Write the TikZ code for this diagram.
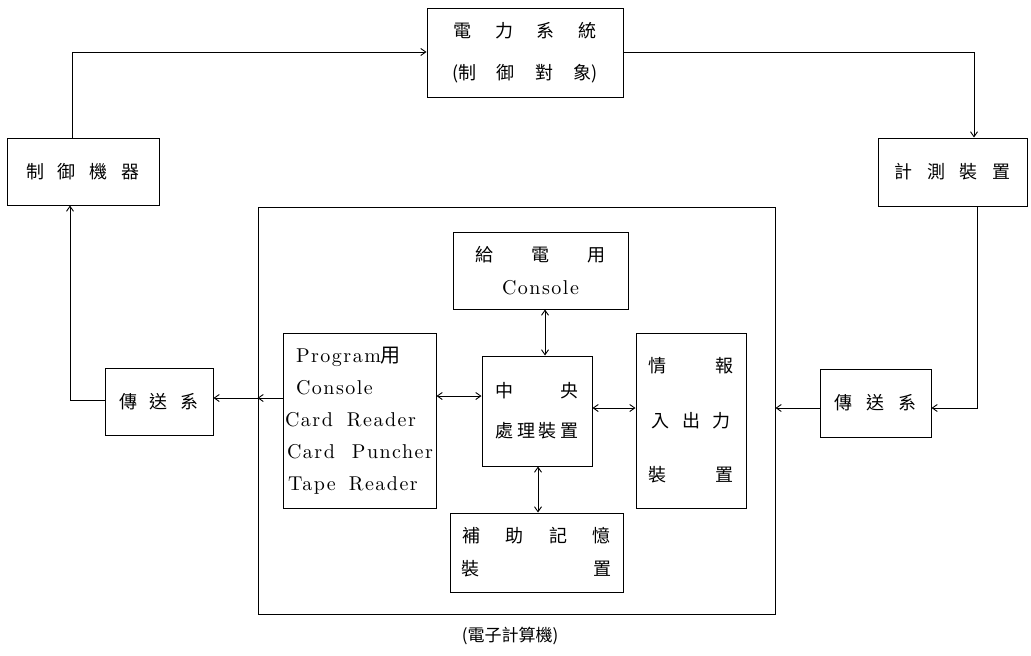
\documentclass[tikz,border=0pt]{standalone}
\usepackage{fontspec}
\newfontfamily\cjk{Noto Sans CJK TC}
\newfontfamily\lmsp{lmroman10-regular}[Extension=.otf, LetterSpace=7.5]
\usetikzlibrary{arrows.meta}
\newcommand{\jrow}[2]{\makebox[#1][s]{#2}}
\newcommand{\lat}{\lmsp}
\newcommand{\hf}{\hfill}
\begin{document}
\begin{tikzpicture}[x=1pt,y=-1pt,
  box/.style={draw, line width=1pt, inner sep=0pt, align=center},
  arr/.style={line width=0.9pt, -{Straight Barb[length=5pt,width=7pt]}},
  darr/.style={line width=0.9pt, {Straight Barb[length=5pt,width=7pt]}-{Straight Barb[length=5pt,width=7pt]}}]
\useasboundingbox (0,0) rectangle (1031,656);
\fill[white] (0,0) rectangle (1031,656);

% boxes
\node[box, minimum width=196pt, minimum height=89pt, font=\cjk\fontsize{18}{42}\selectfont] (power) at (525,52.5)
  {\jrow{143pt}{電\hf{}力\hf{}系\hf{}統}\\\jrow{145pt}{(制\hf{}御\hf{}對\hf{}象)}};
\node[box, minimum width=152pt, minimum height=67pt, font=\cjk\fontsize{18}{20}\selectfont] (ctrl) at (83,171.5)
  {\jrow{114pt}{制\hf{}御\hf{}機\hf{}器}};
\node[box, minimum width=149pt, minimum height=68pt, font=\cjk\fontsize{18}{20}\selectfont] (meas) at (952.5,172)
  {\jrow{116pt}{計\hf{}測\hf{}裝\hf{}置}};
\node[box, minimum width=108pt, minimum height=67pt, font=\cjk\fontsize{18}{20}\selectfont] (tr1) at (159,401.5)
  {\jrow{79pt}{傳\hf{}送\hf{}系}};
\node[box, minimum width=111pt, minimum height=68pt, font=\cjk\fontsize{18}{20}\selectfont] (tr2) at (875.5,403)
  {\jrow{82pt}{傳\hf{}送\hf{}系}};
\node[box, minimum width=517pt, minimum height=407pt] (comp) at (516.5,410.5) {};
\node[font=\cjk\fontsize{17}{20}\selectfont] (complabel) at (510,636) {(電子計算機)};
\node[box, minimum width=175pt, minimum height=77pt, font=\cjk\fontsize{18}{33}\selectfont] (cons) at (540.5,270.5)
  {\jrow{130pt}{給\hf{}電\hf{}用}\\{\fontsize{20}{33}\lat Console}};
\node[box, minimum width=153pt, minimum height=175pt, align=left, text width=149pt, inner xsep=2pt,
  font=\fontsize{20}{32}\lat] (prog) at (359.5,420.5)
  {\hspace*{11pt}Program{\cjk 用}\\\hspace*{11pt}Console\\Card\hspace{14pt}Reader\\\hspace*{2pt}Card\hspace{17pt}Puncher\\\hspace*{3pt}Tape\hspace{13pt}Reader};
\node[box, minimum width=110pt, minimum height=110pt, font=\cjk\fontsize{18}{40}\selectfont] (cpu) at (537,411)
  {\jrow{84pt}{中\hf{}央}\\\jrow{84pt}{處\hf{}理\hf{}裝\hf{}置}};
\node[box, minimum width=110pt, minimum height=175pt, font=\cjk\fontsize{18}{54.5}\selectfont] (io) at (691,420.5)
  {\jrow{85pt}{情\hf{}報}\\\jrow{80pt}{入\hf{}出\hf{}力}\\\jrow{86pt}{裝\hf{}置}};
\node[box, minimum width=173pt, minimum height=79pt, font=\cjk\fontsize{18}{33}\selectfont] (aux) at (536.5,552.5)
  {\jrow{148pt}{補\hf{}助\hf{}記\hf{}憶}\\\jrow{150pt}{裝\hf{}置}};

% connectors
\coordinate (k1) at (72,52);
\draw[arr] (ctrl.north -| k1) -- (k1) -- (power.west |- k1);
\coordinate (k2) at (974,52);
\draw[arr] (power.east |- k2) -- (k2) -- (meas.north -| k2);
\coordinate (k3) at (977,408);
\draw[arr] (meas.south -| k3) -- (k3) -- (tr2.east |- k3);
\draw[arr] (tr2.west |- k3) -- (comp.east |- k3);
\draw[darr] (cpu.east |- k3) -- (io.west |- k3);
\coordinate (k5) at (0,396);
\draw[darr] (prog.east |- k5) -- (cpu.west |- k5);
\coordinate (k6) at (0,398);
\draw[arr] (prog.west |- k6) -- (comp.west |- k6);
\draw[arr] (comp.west |- k6) -- (tr1.east |- k6);
\coordinate (k7) at (70,400);
\draw[arr] (tr1.west |- k7) -- (k7) -- (ctrl.south -| k7);
\coordinate (k8) at (545,0);
\draw[darr] (cons.south -| k8) -- (cpu.north -| k8);
\coordinate (k9) at (538,0);
\draw[darr] (cpu.south -| k9) -- (aux.north -| k9);
\end{tikzpicture}
\end{document}
